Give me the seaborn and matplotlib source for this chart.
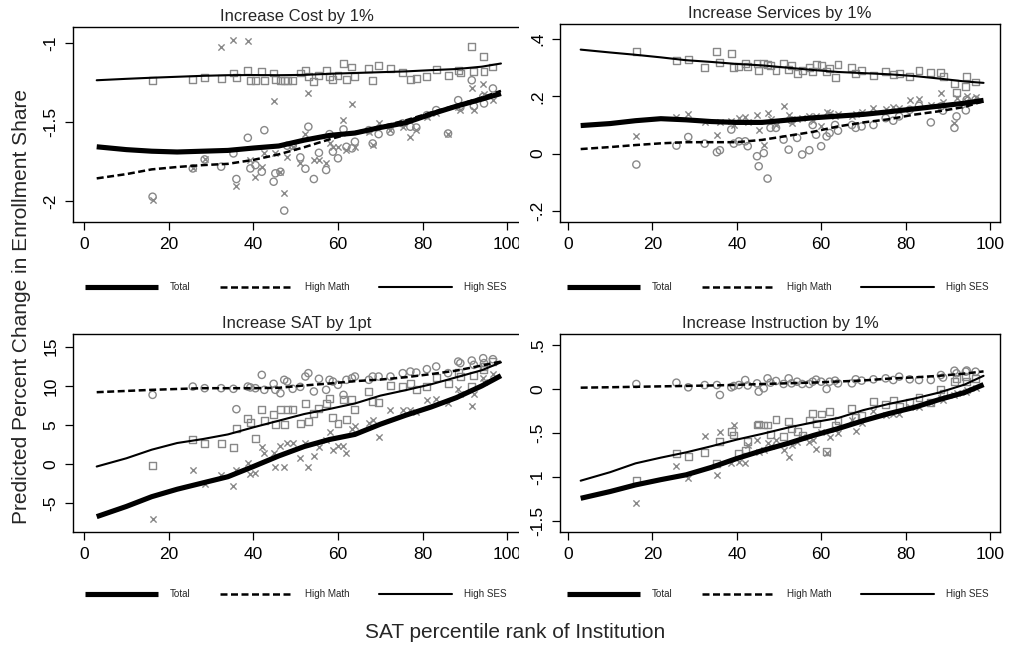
import numpy as np
import pandas as pd
import matplotlib
matplotlib.use("Agg")
import matplotlib.pyplot as plt
from matplotlib.lines import Line2D
from matplotlib.patches import Rectangle
import seaborn as sns

# ---------------------------------------------------------------------------
# Institutions: SAT percentile rank
RANK = [16.2, 25.7, 28.5, 32.4, 35.3, 36.0, 38.7, 39.3, 40.5, 42.0, 42.6, 44.8,
        45.2, 46.4, 47.3, 48.0, 49.3, 51.1, 52.3, 53.0, 54.3, 55.5, 57.2, 58.0,
        58.8, 60.0, 61.3, 62.0, 63.3, 64.0, 67.3, 68.2, 69.6, 72.4, 75.3, 77.1,
        78.5, 81.0, 83.2, 86.0, 88.4, 88.9, 91.6, 92.1, 94.3, 94.5, 96.6]

# Smoothed-curve evaluation points
CURVE_X = [3, 10, 16, 22, 28, 34, 40, 46, 52, 58, 64, 70, 76, 82, 88, 94, 98.5]

# --- Increase Cost by 1% ---------------------------------------------------
cost_total_pts = [-1.994, -1.794, -1.737, -1.025, -0.979, -1.905, -0.987, -1.741,
                  -1.846, -1.783, -1.699, -1.366, -1.699, -1.815, -1.952, -1.72,
                  -1.657, -1.762, -1.573, -1.316, -1.741, -1.741, -1.762, -1.636,
                  -1.657, -1.657, -1.488, -1.678, -1.387, -1.657, -1.562, -1.646,
                  -1.509, -1.552, -1.53, -1.594, -1.552, -1.467, -1.446, -1.573,
                  -1.404, -1.425, -1.288, -1.425, -1.257, -1.32, -1.362]
cost_math_pts = [-1.973, -1.794, -1.737, -1.783, -1.699, -1.861, -1.6, -1.794,
                 -1.773, -1.815, -1.552, -1.878, -1.825, -1.815, -2.061, -1.65,
                 -1.65, -1.724, -1.796, -1.53, -1.861, -1.695, -1.804, -1.577,
                 -1.688, -1.73, -1.547, -1.657, -1.667, -1.625, -1.552, -1.636,
                 -1.577, -1.562, -1.509, -1.53, -1.535, -1.457, -1.425, -1.573,
                 -1.362, -1.408, -1.236, -1.4, -1.341, -1.383, -1.288]
cost_ses_pts = [-1.236, -1.232, -1.219, -1.225, -1.19, -1.22, -1.177, -1.236,
                -1.236, -1.183, -1.236, -1.19, -1.232, -1.236, -1.236, -1.236,
                -1.236, -1.19, -1.173, -1.215, -1.246, -1.204, -1.173, -1.215,
                -1.232, -1.204, -1.13, -1.232, -1.152, -1.21, -1.162, -1.236,
                -1.145, -1.162, -1.187, -1.23, -1.223, -1.21, -1.166, -1.204,
                -1.173, -1.19, -1.025, -1.183, -1.088, -1.179, -1.152]
cost_total_fit = [-1.657, -1.675, -1.685, -1.69, -1.685, -1.68, -1.665, -1.652, -1.615,
                  -1.585, -1.57, -1.535, -1.505, -1.45, -1.40, -1.355, -1.32]
cost_math_fit = [-1.857, -1.83, -1.80, -1.785, -1.773, -1.765, -1.74, -1.705, -1.66,
                 -1.61, -1.565, -1.53, -1.49, -1.44, -1.395, -1.345, -1.303]
cost_ses_fit = [-1.236, -1.227, -1.22, -1.214, -1.208, -1.204, -1.203, -1.204, -1.202,
                -1.195, -1.19, -1.185, -1.18, -1.172, -1.165, -1.15, -1.13]

# --- Increase Services by 1% -----------------------------------------------
serv_total_pts = [0.063, 0.128, 0.14, 0.11, 0.066, 0.11, 0.113, 0.1, 0.124, 0.128,
                  0.11, 0.136, 0.084, 0.029, 0.142, 0.12, 0.1, 0.167, 0.136, 0.107,
                  0.12, 0.125, 0.133, 0.115, 0.13, 0.095, 0.144, 0.142, 0.13, 0.138,
                  0.133, 0.14, 0.145, 0.159, 0.155, 0.163, 0.16, 0.188, 0.19, 0.17,
                  0.212, 0.18, 0.107, 0.194, 0.185, 0.2, 0.198]
serv_math_pts = [-0.038, 0.028, 0.058, 0.035, 0.005, 0.012, 0.084, 0.035, 0.043,
                 0.043, 0.026, -0.009, -0.044, 0.002, -0.087, 0.09, 0.09, 0.049,
                 0.014, 0.116, 0.055, -0.003, 0.012, 0.1, 0.066, 0.026, 0.06, 0.072,
                 0.1, 0.08, 0.1, 0.09, 0.095, 0.1, 0.124, 0.115, 0.13, 0.153, 0.167,
                 0.109, 0.165, 0.15, 0.09, 0.13, 0.151, 0.188, 0.188]
serv_ses_pts = [0.357, 0.326, 0.33, 0.302, 0.357, 0.319, 0.349, 0.299, 0.305, 0.316,
                0.305, 0.316, 0.291, 0.313, 0.31, 0.307, 0.291, 0.314, 0.293, 0.307,
                0.279, 0.29, 0.3, 0.288, 0.31, 0.307, 0.288, 0.298, 0.267, 0.31,
                0.299, 0.281, 0.29, 0.272, 0.287, 0.276, 0.279, 0.27, 0.291, 0.283,
                0.283, 0.27, 0.244, 0.212, 0.233, 0.27, 0.25]
serv_total_fit = [0.098, 0.105, 0.115, 0.122, 0.118, 0.112, 0.109, 0.109, 0.117,
                  0.125, 0.131, 0.137, 0.146, 0.156, 0.166, 0.176, 0.186]
serv_math_fit = [0.016, 0.023, 0.03, 0.036, 0.04, 0.04, 0.04, 0.048, 0.062, 0.076,
                 0.095, 0.109, 0.12, 0.136, 0.148, 0.163, 0.183]
serv_ses_fit = [0.363, 0.353, 0.345, 0.336, 0.326, 0.32, 0.313, 0.308, 0.3, 0.292,
                0.285, 0.281, 0.277, 0.271, 0.262, 0.252, 0.247]

# --- Increase SAT by 1pt ---------------------------------------------------
sat_total_pts = [-7.02, -0.72, -2.51, -1.36, -2.85, -0.72, 0.13, -1.23, -1.15, 2.17,
                 1.45, 1.4, -0.3, 2.34, -0.38, 2.68, 2.68, 0.77, 2.68, -0.38, 0.98,
                 2.2, 3.11, 4.17, 1.75, 2.3, 2.34, 1.4, 4.47, 4.81, 5.23, 5.66, 3.45,
                 6.94, 6.94, 6.94, 6.6, 8.21, 8.3, 7.79, 9.62, 8.9, 7.45, 9.0, 10.98,
                 10.5, 11.49]
sat_math_pts = [8.85, 9.91, 9.7, 9.7, 9.62, 7.02, 9.91, 9.8, 9.7, 11.4, 9.49, 10.26,
                9.49, 9.06, 10.77, 10.55, 9.62, 9.87, 11.19, 11.62, 9.28, 10.9, 9.49,
                10.77, 10.55, 10.13, 8.85, 10.77, 10.98, 11.19, 10.77, 11.19, 11.19,
                11.19, 11.62, 11.83, 11.7, 12.13, 12.47, 11.62, 13.1, 12.9, 13.23,
                12.68, 13.53, 12.9, 13.4]
sat_ses_pts = [-0.21, 3.19, 2.6, 2.68, 2.17, 4.6, 5.87, 5.32, 3.32, 6.94, 5.55, 6.3,
               5.02, 6.94, 5.11, 6.94, 6.94, 5.23, 7.79, 5.45, 6.51, 7.15, 7.79, 8.43,
               6.0, 5.15, 8.21, 5.66, 8.21, 7.02, 9.28, 8.0, 7.87, 10.0, 9.91, 10.34,
               9.49, 9.91, 11.06, 10.26, 11.7, 11.2, 9.87, 11.3, 12.04, 12.5, 13.1]
sat_total_fit = [-6.7, -5.4, -4.15, -3.2, -2.4, -1.6, -0.3, 1.05, 2.25, 3.15, 3.8,
                 5.1, 6.25, 7.3, 8.5, 10.0, 11.3]
sat_math_fit = [9.19, 9.35, 9.49, 9.6, 9.7, 9.7, 9.7, 9.75, 10.05, 10.3, 10.6, 10.8,
                11.1, 11.5, 11.95, 12.6, 13.1]
sat_ses_fit = [-0.3, 0.75, 1.85, 2.7, 3.2, 3.8, 4.7, 5.55, 6.4, 7.05, 7.75, 8.75,
               9.45, 10.2, 11.1, 12.0, 13.0]

# --- Increase Instruction by 1% --------------------------------------------
inst_total_pts = [-1.3, -0.871, -1.015, -0.534, -0.977, -0.485, -0.845, -0.409,
                  -0.826, -0.845, -0.636, -0.58, -0.712, -0.693, -0.617, -0.65,
                  -0.58, -0.697, -0.769, -0.636, -0.6, -0.55, -0.598, -0.58, -0.686,
                  -0.485, -0.723, -0.54, -0.455, -0.5, -0.352, -0.473, -0.39, -0.25,
                  -0.3, -0.288, -0.28, -0.2, -0.201, -0.163, -0.106, -0.12, -0.068,
                  -0.05, -0.03, -0.01, 0.011]
inst_math_pts = [0.057, 0.072, 0.019, 0.045, 0.045, -0.068, 0.019, 0.034, 0.045,
                 0.102, 0.04, 0.064, -0.03, 0.008, 0.121, 0.072, 0.091, 0.057, 0.121,
                 0.064, 0.083, 0.057, 0.057, 0.083, 0.106, 0.083, 0.0, 0.083, 0.095,
                 0.064, 0.064, 0.11, 0.095, 0.11, 0.121, 0.102, 0.14, 0.11, 0.102,
                 0.102, 0.159, 0.13, 0.208, 0.178, 0.197, 0.21, 0.197]
inst_ses_pts = [-1.034, -0.731, -0.769, -0.723, -0.845, -0.598, -0.485, -0.523,
                -0.731, -0.693, -0.598, -0.409, -0.398, -0.409, -0.409, -0.52, -0.35,
                -0.542, -0.371, -0.45, -0.48, -0.53, -0.352, -0.277, -0.39, -0.284,
                -0.712, -0.258, -0.417, -0.36, -0.22, -0.322, -0.3, -0.144, -0.174,
                -0.125, -0.2, -0.15, -0.095, -0.155, -0.011, -0.05, 0.083, 0.121,
                0.14, 0.083, 0.121]
inst_total_fit = [-1.242, -1.165, -1.09, -1.03, -0.975, -0.89, -0.79, -0.7, -0.62,
                  -0.53, -0.45, -0.36, -0.28, -0.21, -0.12, -0.04, 0.05]
inst_math_fit = [0.015, 0.02, 0.025, 0.03, 0.035, 0.04, 0.047, 0.057, 0.065, 0.073,
                 0.085, 0.097, 0.118, 0.132, 0.15, 0.175, 0.2]
inst_ses_fit = [-1.042, -0.945, -0.845, -0.78, -0.72, -0.65, -0.575, -0.51, -0.44,
                -0.38, -0.33, -0.24, -0.17, -0.11, -0.04, 0.05, 0.15]

# Panel titles and axis ticks
TITLES = ["Increase Cost by 1%", "Increase Services by 1%",
          "Increase SAT by 1pt", "Increase Instruction by 1%"]
X_TICKS = [0, 20, 40, 60, 80, 100]
Y_TICKS = [[-2, -1.5, -1], [-0.2, 0, 0.2, 0.4], [-5, 0, 5, 10, 15],
           [-1.5, -1, -0.5, 0, 0.5]]
Y_TICK_LABELS = [["-2", "-1.5", "-1"], ["-.2", "0", ".2", ".4"],
                 ["-5", "0", "5", "10", "15"], ["-1.5", "-1", "-.5", "0", ".5"]]
SERIES = ["Total", "High Math", "High SES"]

# ---------------------------------------------------------------------------
sns.set_theme(style="white")
plt.rcParams["font.family"] = ["Liberation Sans", "DejaVu Sans"]

W, H = 1009, 647
fig = plt.figure(figsize=(W / 100, H / 100), dpi=100)
fig.patch.set_facecolor("white")


def frac(left, top, right, bottom):
    return [left / W, 1 - bottom / H, (right - left) / W, (bottom - top) / H]


# axes boxes (pixel edges), x limits, y limits
boxes = [frac(73, 27, 520, 222), frac(560, 24, 1000, 222),
         frac(73, 334, 520, 532), frac(560, 334, 1000, 532)]
xlims = [(-2.6, 103.0), (-1.9, 102.4), (-2.6, 103.0), (-1.9, 102.4)]
ylims = [(-2.133, -0.899), (-0.2385, 0.4524), (-8.66, 16.62), (-1.625, 0.625)]
legend_anchor = [(85 / W, 1 - 287 / H), (567 / W, 1 - 287 / H),
                 (85 / W, 1 - 594 / H), (567 / W, 1 - 594 / H)]

panels = [
    (cost_total_pts, cost_math_pts, cost_ses_pts,
     cost_total_fit, cost_math_fit, cost_ses_fit),
    (serv_total_pts, serv_math_pts, serv_ses_pts,
     serv_total_fit, serv_math_fit, serv_ses_fit),
    (sat_total_pts, sat_math_pts, sat_ses_pts,
     sat_total_fit, sat_math_fit, sat_ses_fit),
    (inst_total_pts, inst_math_pts, inst_ses_pts,
     inst_total_fit, inst_math_fit, inst_ses_fit),
]

GRAY = "#888888"
DASH = (0, (2.8, 1.4))
line_styles = {
    "Total": dict(color="black", linewidth=3.7, linestyle="-", solid_capstyle="butt"),
    "High Math": dict(color="black", linewidth=1.8, linestyle=DASH),
    "High SES": dict(color="black", linewidth=1.5, linestyle="-"),
}

for i, (tot_p, math_p, ses_p, tot_f, math_f, ses_f) in enumerate(panels):
    ax = fig.add_axes(boxes[i])
    ax.set_zorder(2 if i % 2 == 1 else 0)
    ax.set_facecolor("white")

    pts = pd.DataFrame({"rank": RANK, "Total": tot_p,
                        "High Math": math_p, "High SES": ses_p})
    fit = pd.DataFrame({"rank": CURVE_X, "Total": tot_f,
                        "High Math": math_f, "High SES": ses_f})

    # scattered institution estimates
    sns.scatterplot(data=pts, x="rank", y="High Math", ax=ax, marker="o", s=27,
                    color=GRAY, facecolor="none", edgecolor=GRAY, linewidth=1.0,
                    zorder=2)
    sns.scatterplot(data=pts, x="rank", y="High SES", ax=ax, marker="s", s=25,
                    color=GRAY, facecolor="none", edgecolor=GRAY, linewidth=1.0,
                    zorder=2)
    sns.scatterplot(data=pts, x="rank", y="Total", ax=ax, marker="x", s=20,
                    color=GRAY, linewidth=1.0, zorder=2)

    # smoothed curves
    for name in ["High SES", "High Math", "Total"]:
        sns.lineplot(data=fit, x="rank", y=name, ax=ax, estimator=None, sort=True,
                     zorder=3, **line_styles[name])

    ax.set_xlim(*xlims[i])
    ax.set_ylim(*ylims[i])
    ax.set_xticks(X_TICKS)
    ax.set_xticklabels([str(t) for t in X_TICKS])
    ax.set_yticks(Y_TICKS[i])
    ax.set_yticklabels(Y_TICK_LABELS[i], rotation=90, va="center")
    ax.set_xlabel("")
    ax.set_ylabel("")
    ax.tick_params(axis="both", direction="out", length=5.5, width=0.9,
                   labelsize=12.5, pad=5, colors="black")
    ax.tick_params(axis="both", which="both", top=False, right=False,
                   bottom=True, left=True)
    for sp in ax.spines.values():
        sp.set_visible(True)
        sp.set_color("black")
        sp.set_linewidth(1.0)
    ax.set_title(TITLES[i], fontsize=12, pad=4)

    handles = [Line2D([], [], **line_styles[n]) for n in SERIES]
    ax.legend(handles, SERIES, loc="center left", bbox_to_anchor=legend_anchor[i],
              bbox_transform=fig.transFigure, ncol=3, frameon=False,
              fontsize=7.1, handlelength=7.4, handletextpad=1.2,
              columnspacing=3.0, borderpad=0, borderaxespad=0)

# right-hand panels sit over anything spilling out of the left-hand ones
fig.add_artist(Rectangle((519 / W, 0), 1 - 519 / W, 1, transform=fig.transFigure,
                         facecolor="white", edgecolor="none", zorder=1))

fig.text(22 / W, 1 - 306 / H, "Predicted Percent Change in Enrollment Share",
         rotation=90, ha="center", va="center", fontsize=15, zorder=5)
fig.text(515 / W, 1 - 633 / H, "SAT percentile rank of Institution",
         ha="center", va="center", fontsize=15, zorder=5)

fig.savefig("out.png", dpi=100, facecolor="white")
